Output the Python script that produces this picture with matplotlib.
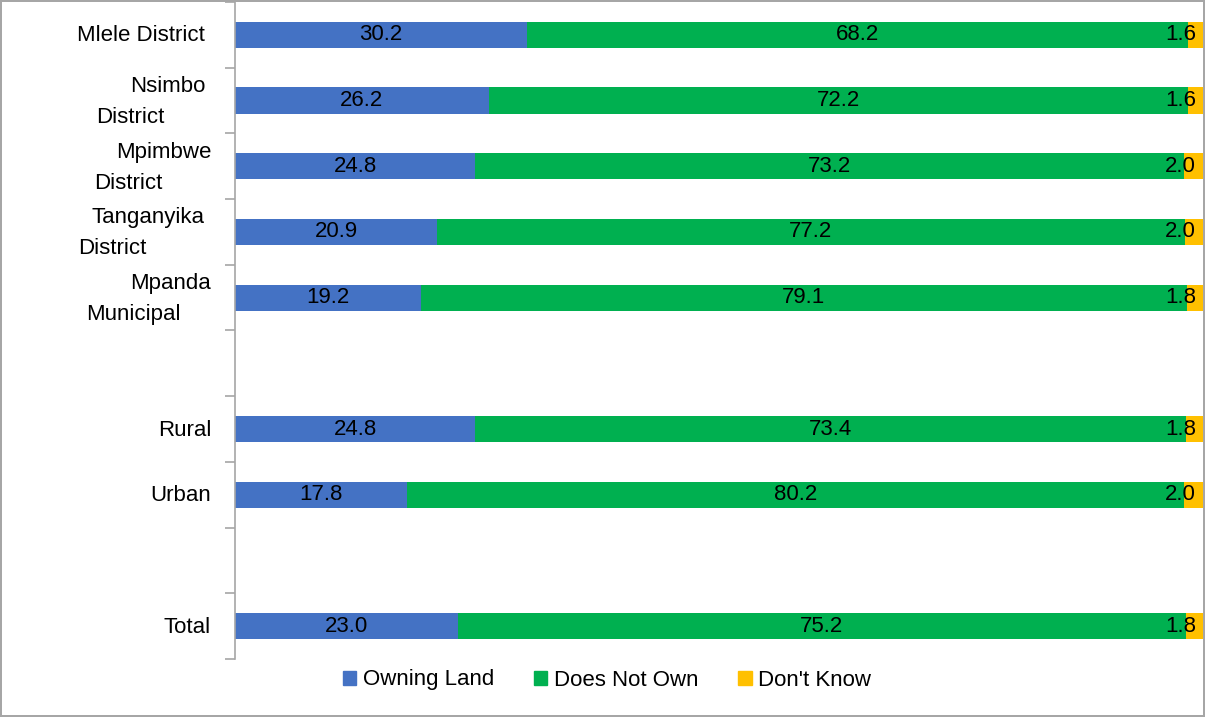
import matplotlib
matplotlib.use("Agg")
import matplotlib.pyplot as plt
import matplotlib.transforms as mtransforms
from matplotlib.patches import Patch

plt.rcParams['font.family'] = ['Liberation Sans', 'DejaVu Sans']

# rows from top to bottom; None marks an empty slot
categories = [("Mlele District",), ("Nsimbo", "District"), ("Mpimbwe", "District"),
              ("Tanganyika", "District"), ("Mpanda", "Municipal"), None,
              ("Rural",), ("Urban",), None, ("Total",)]
owning = [30.2, 26.2, 24.8, 20.9, 19.2, None, 24.8, 17.8, None, 23.0]
not_own = [68.2, 72.2, 73.2, 77.2, 79.1, None, 73.4, 80.2, None, 75.2]
dont_know = [1.6, 1.6, 2.0, 2.0, 1.8, None, 1.8, 2.0, None, 1.8]

series_names = ["Owning Land", "Does Not Own", "Don't Know"]
colors = ["#4472C4", "#00B050", "#FFC000"]

# right-edge offsets (px) of the label lines, mimicking Excel's wrapping
label_right = {"Mlele District": 30, "Nsimbo": 30, "Mpimbwe": 24, "Tanganyika": 30,
               "Mpanda": 24, "Rural": 24, "Urban": 24, "Total": 24}
second_right = {"Nsimbo": 70, "Mpimbwe": 73, "Tanganyika": 89, "Mpanda": 54}

fig = plt.figure(figsize=(12.05, 7.17), dpi=100)
fig.patch.set_edgecolor("#A6A6A6")
fig.patch.set_linewidth(1.5)
ax = fig.add_axes([235 / 1205, 1 - 659 / 717, 968 / 1205, 657 / 717])

ys = [i for i, c in enumerate(categories) if c is not None]
o = [owning[i] for i in ys]
n = [not_own[i] for i in ys]
d = [dont_know[i] for i in ys]
left2 = [a + b for a, b in zip(o, n)]

h = 0.4
ax.barh(ys, o, height=h, color=colors[0])
ax.barh(ys, n, left=o, height=h, color=colors[1])
ax.barh(ys, d, left=left2, height=h, color=colors[2])

fs = 16
for y, a, b, c in zip(ys, o, n, d):
    ax.text(a / 2, y, f"{a:.1f}", ha="center", va="center", fontsize=fs)
    ax.text(a + b / 2, y, f"{b:.1f}", ha="center", va="center", fontsize=fs)
    ax.text(99.3, y, f"{c:.1f}", ha="right", va="center", fontsize=fs)

ax.set_xlim(0, 100)
ax.set_ylim(len(categories) - 0.5, -0.5)
ax.set_xticks([])
ax.set_yticks([])
ax.set_yticks([i - 0.5 for i in range(len(categories) + 1)], minor=True)
ax.tick_params(axis="y", which="minor", length=7, width=1.2, color="#A6A6A6",
               direction="out")
for s in ["top", "right", "bottom"]:
    ax.spines[s].set_visible(False)
ax.spines["left"].set_color("#A6A6A6")
ax.spines["left"].set_linewidth(1.2)

trans = mtransforms.blended_transform_factory(ax.transAxes, ax.transData)
for i, cat in enumerate(categories):
    if cat is None:
        continue
    first = cat[0]
    if len(cat) == 1:
        t = mtransforms.offset_copy(trans, fig=fig, x=-label_right[first], y=-1, units="dots")
        ax.text(0, i, first, transform=t, ha="right", va="center", fontsize=fs)
    else:
        t1 = mtransforms.offset_copy(trans, fig=fig, x=-label_right[first], y=14, units="dots")
        t2 = mtransforms.offset_copy(trans, fig=fig, x=-second_right[first], y=-17, units="dots")
        ax.text(0, i, first, transform=t1, ha="right", va="center", fontsize=fs)
        ax.text(0, i, cat[1], transform=t2, ha="right", va="center", fontsize=fs)

handles = [Patch(color=c, label=l) for c, l in zip(colors, series_names)]
fig.legend(handles=handles, loc="center", bbox_to_anchor=(607 / 1205, 1 - 680 / 717),
           ncol=3, frameon=False, fontsize=fs, handlelength=0.6, handleheight=0.6,
           handletextpad=0.3, columnspacing=1.8)

fig.savefig("out.png", dpi=100, edgecolor=fig.get_edgecolor())
